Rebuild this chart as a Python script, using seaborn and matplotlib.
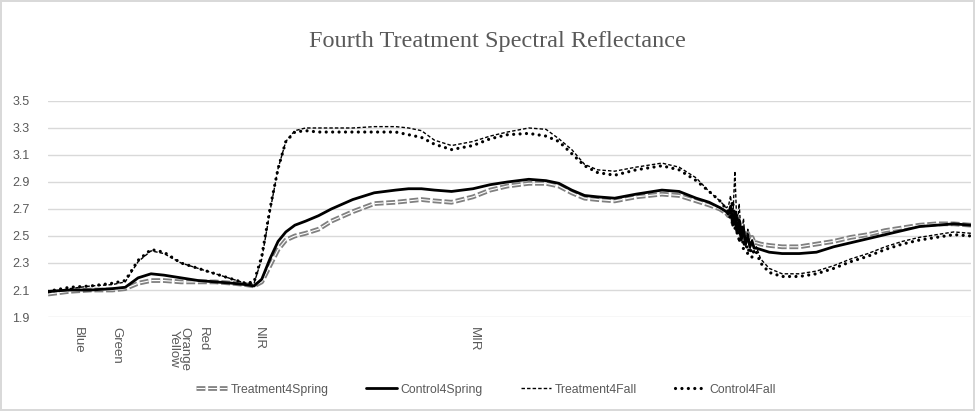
import numpy as np
import pandas as pd
import matplotlib
matplotlib.use("Agg")
import matplotlib.pyplot as plt
import matplotlib.patheffects as pe
import seaborn as sns

# wavelength (nm) and reflectance
wavelength = [350, 400, 450, 500, 530, 560, 590, 620, 660, 700,
              740, 780, 810, 830, 848, 867, 886, 904, 925, 950,
              980, 1010, 1060, 1110, 1160, 1190, 1220, 1250, 1290, 1340,
              1380, 1420, 1470, 1510, 1540, 1570, 1600, 1630, 1670, 1720,
              1780, 1820, 1860, 1890, 1915, 1930,
              1935, 1940, 1945, 1950, 1955, 1960, 1965, 1970, 1975, 1980, 1985, 1990, 1995, 2000,
              2010, 2030, 2060, 2100, 2140, 2180, 2220, 2260, 2300, 2340,
              2380, 2420, 2460, 2500]

treatment4_spring = [2.07, 2.09, 2.10, 2.10, 2.11, 2.15, 2.17, 2.17, 2.16, 2.16,
                     2.16, 2.15, 2.14, 2.13, 2.16, 2.28, 2.40, 2.47, 2.50, 2.52,
                     2.55, 2.61, 2.68, 2.74, 2.75, 2.76, 2.77, 2.76, 2.75, 2.79,
                     2.84, 2.87, 2.89, 2.89, 2.87, 2.82, 2.78, 2.77, 2.76, 2.79,
                     2.81, 2.80, 2.76, 2.73, 2.70, 2.67,
                     2.65, 2.70, 2.60, 2.64, 2.55, 2.60, 2.50, 2.54, 2.47, 2.52, 2.46, 2.49, 2.45, 2.45,
                     2.44, 2.43, 2.42, 2.42, 2.44, 2.46, 2.49, 2.51, 2.54, 2.56,
                     2.58, 2.59, 2.59, 2.58]

control4_spring = [2.09, 2.10, 2.10, 2.11, 2.12, 2.19, 2.22, 2.21, 2.19, 2.17,
                   2.16, 2.15, 2.14, 2.13, 2.18, 2.33, 2.46, 2.53, 2.58, 2.61,
                   2.65, 2.70, 2.77, 2.82, 2.84, 2.85, 2.85, 2.84, 2.83, 2.85,
                   2.88, 2.90, 2.92, 2.91, 2.89, 2.84, 2.80, 2.79, 2.78, 2.81,
                   2.84, 2.83, 2.78, 2.75, 2.71, 2.68,
                   2.66, 2.72, 2.58, 2.68, 2.52, 2.62, 2.47, 2.56, 2.44, 2.50, 2.42, 2.46, 2.41, 2.41,
                   2.40, 2.38, 2.37, 2.37, 2.38, 2.42, 2.45, 2.48, 2.51, 2.54,
                   2.57, 2.58, 2.59, 2.58]

treatment4_fall = [2.08, 2.11, 2.13, 2.14, 2.16, 2.31, 2.39, 2.37, 2.30, 2.26,
                   2.22, 2.18, 2.15, 2.15, 2.33, 2.68, 3.00, 3.20, 3.28, 3.30,
                   3.30, 3.30, 3.30, 3.31, 3.31, 3.30, 3.28, 3.21, 3.17, 3.20,
                   3.24, 3.27, 3.30, 3.29, 3.22, 3.14, 3.03, 2.99, 2.98, 3.01,
                   3.04, 3.01, 2.93, 2.83, 2.76, 2.71,
                   2.72, 2.80, 2.62, 2.98, 2.55, 2.74, 2.48, 2.63, 2.42, 2.55, 2.40, 2.48, 2.38, 2.42,
                   2.33, 2.26, 2.22, 2.22, 2.24, 2.28, 2.33, 2.37, 2.42, 2.46,
                   2.49, 2.51, 2.53, 2.52]

control4_fall = [2.09, 2.12, 2.13, 2.15, 2.17, 2.32, 2.40, 2.38, 2.30, 2.26,
                 2.22, 2.18, 2.15, 2.16, 2.35, 2.70, 3.00, 3.20, 3.27, 3.28,
                 3.27, 3.27, 3.27, 3.27, 3.27, 3.25, 3.23, 3.18, 3.14, 3.17,
                 3.22, 3.25, 3.26, 3.24, 3.20, 3.11, 3.02, 2.97, 2.95, 2.99,
                 3.02, 2.99, 2.91, 2.83, 2.76, 2.70,
                 2.68, 2.62, 2.76, 2.55, 2.66, 2.45, 2.58, 2.40, 2.50, 2.36, 2.44, 2.34, 2.40, 2.38,
                 2.30, 2.23, 2.20, 2.20, 2.22, 2.26, 2.31, 2.35, 2.40, 2.44,
                 2.47, 2.49, 2.51, 2.50]

band_names = ["Blue", "Green", "Orange\nYellow", "Red", "NIR", "MIR"]
band_positions = [420, 510, 655, 710, 842, 1342]

y_ticks = [1.9, 2.1, 2.3, 2.5, 2.7, 2.9, 3.1, 3.3, 3.5]

df = pd.DataFrame({"wl": wavelength, "t4s": treatment4_spring, "c4s": control4_spring,
                   "t4f": treatment4_fall, "c4f": control4_fall})

sns.set_style("white")
plt.rcParams["font.family"] = ["Liberation Sans", "DejaVu Sans"]

fig = plt.figure(figsize=(9.75, 4.11), dpi=100)
fig.patch.set_edgecolor("#d9d9d9")
fig.patch.set_linewidth(1.5)
ax = fig.add_axes([0.0492, 0.2287, 0.9467, 0.5256])

sns.lineplot(data=df, x="wl", y="t4s", ax=ax, color="white", lw=0.8,
             linestyle=(0, (8, 2.5)), label="Treatment4Spring",
             path_effects=[pe.Stroke(linewidth=3.4, foreground="#808080"), pe.Normal()])
sns.lineplot(data=df, x="wl", y="c4s", ax=ax, color="black", lw=2.0, label="Control4Spring")
sns.lineplot(data=df, x="wl", y="t4f", ax=ax, color="black", lw=1.0,
             linestyle=(0, (2.5, 1.5)), label="Treatment4Fall")
sns.lineplot(data=df, x="wl", y="c4f", ax=ax, color="black", lw=2.3,
             linestyle=(0, (0.01, 2.0)), dash_capstyle="round", label="Control4Fall")

ax.set_xlim(350, 2500)
ax.set_ylim(1.9, 3.5)
ax.set_yticks(y_ticks)
ax.set_yticklabels([f"{v:.1f}" for v in y_ticks])
ax.set_xticks(band_positions)
ax.set_xticklabels(band_names, rotation=-90, va="top", ha="center", linespacing=0.85)
ax.tick_params(axis="both", length=0, colors="#595959")
ax.tick_params(axis="y", labelsize=9, pad=13)
ax.tick_params(axis="x", labelsize=9.5, pad=7)
ax.yaxis.grid(True, color="#d9d9d9", lw=1)
ax.xaxis.grid(False)
for s in ax.spines.values():
    s.set_visible(False)
ax.set_xlabel("")
ax.set_ylabel("")

ax.get_legend().remove()
handles, labels = ax.get_legend_handles_labels()
fig.legend(handles, labels, loc="center", bbox_to_anchor=(0.4985, 0.052), ncol=4,
           frameon=False, fontsize=8.8, labelcolor="#595959", handlelength=2.5,
           handletextpad=0.3, columnspacing=3.1)

fig.text(0.51, 0.898, "Fourth Treatment Spectral Reflectance", ha="center", va="center",
         fontsize=17.5, color="#595959", family="Liberation Serif")

fig.savefig("out.png", dpi=100, edgecolor=fig.get_edgecolor())
